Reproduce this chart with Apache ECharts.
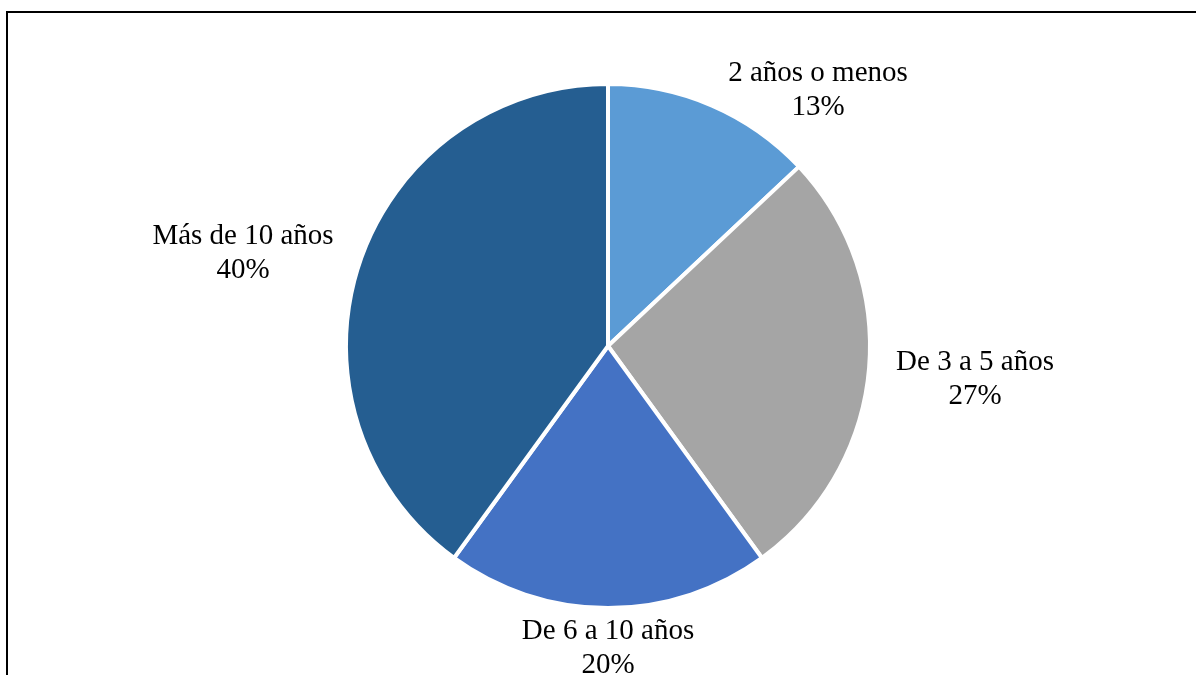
<!DOCTYPE html>
<html>
<head>
<meta charset="utf-8">
<script src="https://cdn.jsdelivr.net/npm/echarts@6/dist/echarts.min.js"></script>
<style>
  html, body { margin: 0; padding: 0; background: #fff; }
  #chart { width: 1196px; height: 675px; }
</style>
</head>
<body>
<div id="chart"></div>
<script>
// Antigüedad: share of each range (percent)
const categories = ['2 años o menos', 'De 3 a 5 años', 'De 6 a 10 años', 'Más de 10 años'];
const values = [13, 27, 20, 40];
const colors = ['#5B9BD5', '#A5A5A5', '#4472C4', '#255E91'];

// Label centres for each slice, in pixels
const labelSpots = [[818, 90], [975, 379], [608, 648], [243, 253]];

const chart = echarts.init(document.getElementById('chart'));

chart.setOption({
  backgroundColor: '#ffffff',
  animation: false,
  graphic: [{
    type: 'rect',
    shape: { x: 7, y: 12, width: 1400, height: 1000 },
    style: { fill: 'none', stroke: '#000', lineWidth: 2 },
    silent: true
  }],
  series: [{
    type: 'pie',
    center: [608, 346],
    radius: [0, 262],
    startAngle: 90,
    clockwise: true,
    data: categories.map((name, i) => ({
      name, value: values[i], itemStyle: { color: colors[i] }
    })),
    itemStyle: { borderColor: '#ffffff', borderWidth: 4 },
    label: {
      show: true,
      position: 'outside',
      formatter: p => p.name + '\n' + p.value + '%',
      fontFamily: '"Liberation Serif", "Times New Roman", serif',
      fontSize: 29,
      lineHeight: 34,
      color: '#000',
      align: 'center'
    },
    labelLine: { show: false },
    labelLayout: params => ({
      x: labelSpots[params.dataIndex][0],
      y: labelSpots[params.dataIndex][1],
      align: 'center',
      verticalAlign: 'middle'
    }),
    emphasis: { disabled: true }
  }]
});
</script>
</body>
</html>
